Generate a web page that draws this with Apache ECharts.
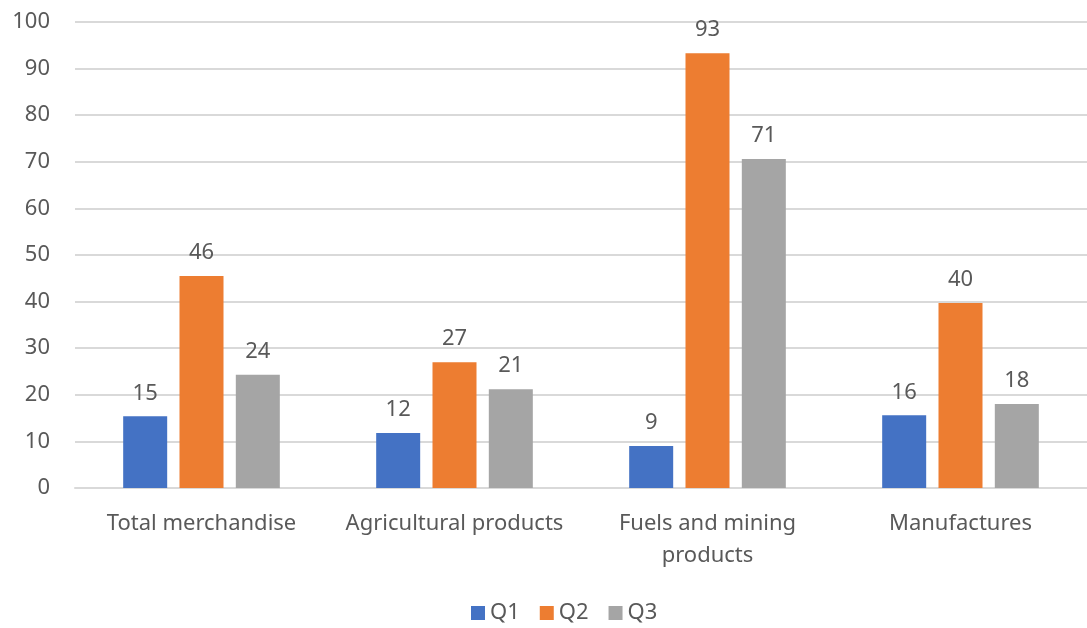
<!DOCTYPE html>
<html><head><meta charset="utf-8">
<script src="https://cdn.jsdelivr.net/npm/echarts@6/dist/echarts.min.js"></script>
<style>html,body{margin:0;padding:0;background:#fff}#c{width:1087px;height:628px}</style>
</head><body><div id="c"></div>
<script>
const categories = ["Total merchandise", "Agricultural products", "Fuels and mining\nproducts", "Manufactures"];
const seriesNames = ["Q1", "Q2", "Q3"];
const q1 = [15.4, 11.8, 9.0, 15.6];
const q2 = [45.5, 27.0, 93.3, 39.7];
const q3 = [24.3, 21.2, 70.6, 18.0];
const yTicks = [0, 10, 20, 30, 40, 50, 60, 70, 80, 90, 100];
const colors = ["#4472C4", "#ED7D31", "#A5A5A5"];
const txt = "#595959";
const font = "Noto Sans";
const fs = 22;
const chart = echarts.init(document.getElementById('c'));
const data = [q1, q2, q3];
chart.setOption({
  animation: false,
  color: colors,
  textStyle: {fontFamily: font},
  grid: {left: 75, right: -11, top: 22, bottom: 140, containLabel: false},
  legend: {
    top: 597, left: 466, itemWidth: 14, itemHeight: 14, itemGap: 20,
    icon: 'rect',
    textStyle: {color: txt, fontSize: fs, fontFamily: font}
  },
  xAxis: {
    type: 'category', data: categories,
    axisLine: {show: true, lineStyle: {color: '#D9D9D9', width: 2}},
    axisTick: {show: false},
    axisLabel: {color: txt, fontSize: fs, fontFamily: font, margin: 20, lineHeight: 32, interval: 0}
  },
  yAxis: {
    type: 'value', min: yTicks[0], max: yTicks[yTicks.length-1], interval: 10,
    axisLine: {show: false}, axisTick: {show: false},
    axisLabel: {color: txt, fontSize: fs, fontFamily: font, margin: 25},
    splitLine: {lineStyle: {color: '#D9D9D9', width: 2}}
  },
  series: seriesNames.map((n, i) => ({
    name: n, type: 'bar', data: data[i],
    barWidth: 44, barGap: '28%',
    label: {show: true, position: 'top', distance: 12, color: txt, fontSize: fs, fontFamily: font,
      formatter: p => Math.round(p.value)}
  }))
});
</script></body></html>
